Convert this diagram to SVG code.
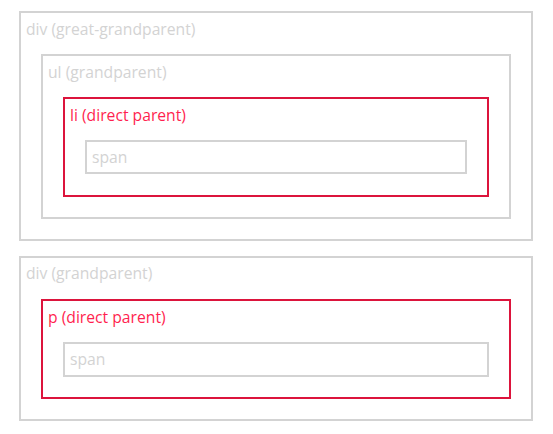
<svg xmlns="http://www.w3.org/2000/svg" width="553" height="434" viewBox="0 0 553 434">
<style>
.box{fill:none;stroke:#d3d3d3;stroke-width:2}
.hl{fill:none;stroke:#dc143c;stroke-width:2}
text{font-family:"Open Sans","Noto Sans",sans-serif;font-size:15.7px;fill:#d3d3d3}
text.r{fill:#ff1f4f}
</style>
<rect width="553" height="434" fill="#fff"/>
<g id="div-great-grandparent">
<rect class="box" x="20" y="12" width="512" height="228"/>
<text x="26" y="35">div (great-grandparent)</text>
</g>
<g id="ul-grandparent">
<rect class="box" x="42" y="55" width="468" height="163"/>
<text x="48" y="78">ul (grandparent)</text>
</g>
<g id="li-direct-parent">
<rect class="hl" x="64" y="98" width="424" height="98"/>
<text class="r" x="70" y="121">li (direct parent)</text>
</g>
<g id="span-1">
<rect class="box" x="86" y="141" width="380" height="32"/>
<text x="92" y="163">span</text>
</g>
<g id="div-grandparent">
<rect class="box" x="20" y="257" width="512" height="163"/>
<text x="26" y="279">div (grandparent)</text>
</g>
<g id="p-direct-parent">
<rect class="hl" x="42" y="300" width="468" height="98"/>
<text class="r" x="48" y="323">p (direct parent)</text>
</g>
<g id="span-2">
<rect class="box" x="64" y="343" width="424" height="33"/>
<text x="70" y="365">span</text>
</g>
<g id="connectors"></g>
</svg>
